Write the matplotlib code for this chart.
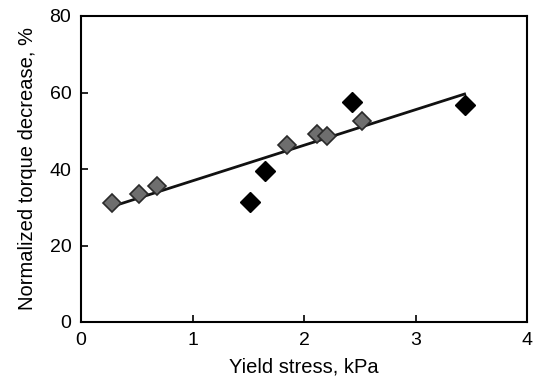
import matplotlib
matplotlib.use("Agg")
import matplotlib.pyplot as plt

gray_x = [0.28, 0.52, 0.68, 1.85, 2.12, 2.21, 2.52]
gray_y = [31.0, 33.5, 35.6, 46.4, 49.2, 48.6, 52.5]
black_x = [1.52, 1.65, 2.43, 3.44]
black_y = [31.3, 39.5, 57.4, 56.7]
line_x = [0.29, 3.44]
line_y = [30.3, 59.6]
xticks = [0, 1, 2, 3, 4]
yticks = [0, 20, 40, 60, 80]

plt.rcParams['font.family'] = ['Liberation Sans', 'DejaVu Sans']
fig = plt.figure(figsize=(5.34, 3.84), dpi=100)
ax = fig.add_axes([81/534, 1-322/384, (527-81)/534, (322-16)/384])
ax.plot(line_x, line_y, color='#111111', lw=2.0, zorder=2)
ax.plot(gray_x, gray_y, 'D', ms=9, mfc='#6e6e6e', mec='#2a2a2a', mew=1.2, ls='none', zorder=3)
ax.plot(black_x, black_y, 'D', ms=10, mfc='#000000', mec='#000000', ls='none', zorder=3)
ax.set_xlim(0, 4)
ax.set_ylim(0, 80)
ax.set_xticks(xticks)
ax.set_yticks(yticks)
ax.tick_params(direction='in', length=5, width=1.2, labelsize=14)
ax.tick_params(axis='x', pad=7)
ax.tick_params(axis='y', pad=7)
for s in ax.spines.values():
    s.set_linewidth(1.5)
ax.set_xlabel('Yield stress, kPa', fontsize=14.5, labelpad=6)
ax.set_ylabel('Normalized torque decrease, %', fontsize=14.5, labelpad=9)
fig.savefig('out.png', dpi=100)
